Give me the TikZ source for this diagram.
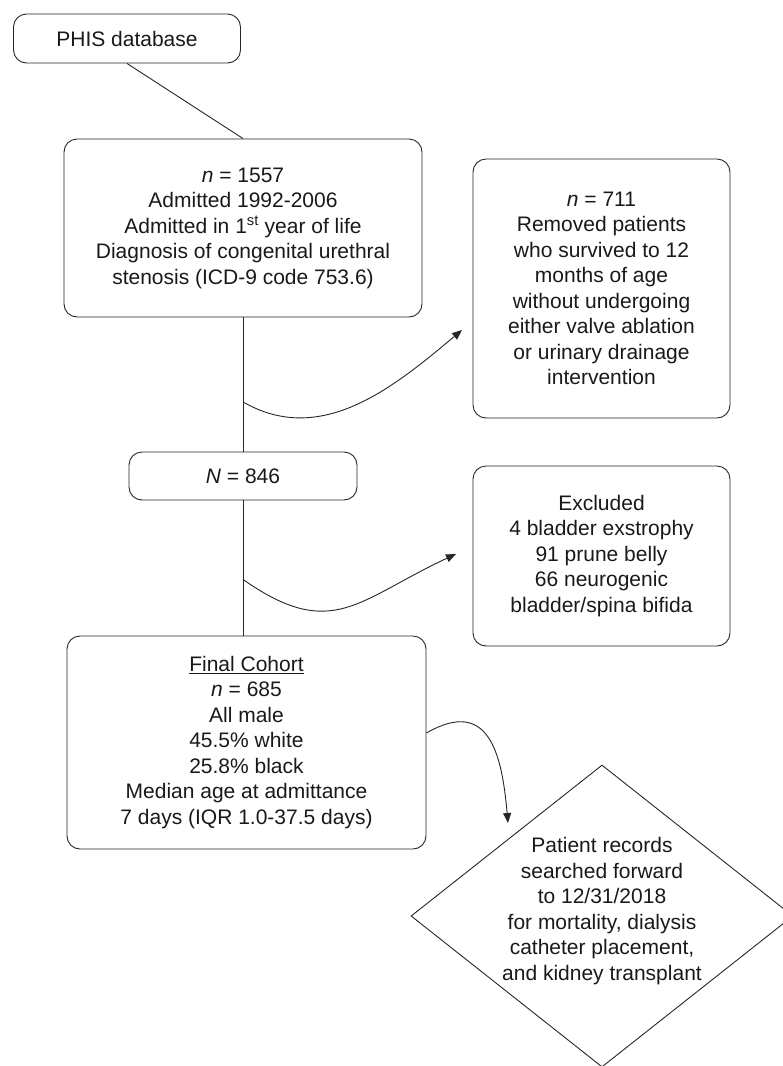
\documentclass[tikz,border=0pt]{standalone}
\usepackage{fontspec}
\setmainfont{Liberation Sans}
\usetikzlibrary{shapes.geometric,arrows.meta,calc}
\begin{document}
\begin{tikzpicture}[x=1pt,y=1pt,
  txt/.style={align=center,inner sep=0pt,font=\fontsize{21}{25.5}\selectfont,text=black!90},
  box/.style={txt,draw=black!85,line width=0.9pt,rounded corners=13pt},
  conn/.style={draw=black!85,line width=0.9pt},
  arr/.style={conn,-{Triangle[length=10pt,width=8pt]}}]
\useasboundingbox (0,0) rectangle (783,-1066);
\clip (0,0) rectangle (783,-1066);
\node[box,minimum width=227,minimum height=49] (phis) at (127,-38.5) {PHIS database};
\node[box,minimum width=358,minimum height=178] (big) at (243,-228)
  {\textit{n} = 1557\\Admitted 1992-2006\\Admitted in 1\textsuperscript{st} year of life\\Diagnosis of congenital urethral\\stenosis (ICD-9 code 753.6)};
\node[box,minimum width=257,minimum height=259] (rem) at (601.5,-288.5)
  {\textit{n} = 711\\Removed patients\\who survived to 12\\months of age\\without undergoing\\either valve ablation\\or urinary drainage\\intervention};
\node[box,minimum width=228,minimum height=48] (nbox) at (243,-476) {\textit{N} = 846};
\node[box,minimum width=257,minimum height=180] (excl) at (601.5,-556)
  {Excluded\\4 bladder exstrophy\\91 prune belly\\66 neurogenic\\bladder/spina bifida};
\node[box,minimum width=359,minimum height=213] (final) at (246.5,-742.5)
  {\underline{Final Cohort}\\\textit{n} = 685\\All male\\45.5\% white\\25.8\% black\\Median age at admittance\\7 days (IQR 1.0-37.5 days)};
\node[diamond,draw=black!85,line width=0.9pt,minimum width=382,minimum height=302,inner sep=0pt] (dia) at (602,-916) {};
\node[txt] (diatext) at ($(dia.center)+(0,5)$)
  {Patient records\\searched forward\\to 12/31/2018\\for mortality, dialysis\\catheter placement,\\and kidney transplant};
% connectors
\draw[conn] (phis.south) -- (big.north);
\draw[conn] (big.south) -- (nbox.north);
\draw[conn] (nbox.south) -- (nbox.south |- final.north);
\coordinate (s1) at ($(big.south)!0.63!(nbox.north)$);
\coordinate (t1) at (462,-330);
\draw[arr] (s1) to[out=-30,in=220] (t1);
\coordinate (s2) at ($(nbox.south)+(0,-79)$);
\coordinate (t2) at (456,-554);
\draw[arr] (s2) to[out=-35,in=205,looseness=1.3] (t2);
\coordinate (s3) at ($(final.east)+(0,9.5)$);
\coordinate (t3) at (508,-823);
\draw[arr] (s3) to[out=30,in=95,looseness=1.5] (t3);
\end{tikzpicture}
\end{document}
